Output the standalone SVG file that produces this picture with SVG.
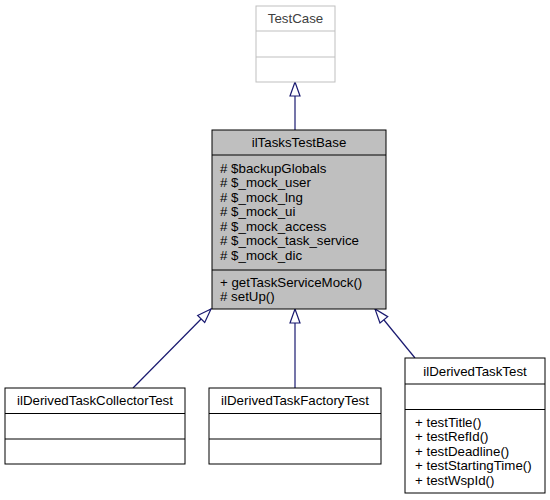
<svg xmlns="http://www.w3.org/2000/svg" width="550" height="500" viewBox="0 0 550 500">
<style>
text{font-family:"Liberation Sans",Arial,sans-serif;font-size:13.3px;fill:#000}
.c{text-anchor:middle}
.box{fill:#fff;stroke:#000;stroke-width:1}
.grey{fill:#bfbfbf;stroke:#000;stroke-width:1}
.light{fill:#fff;stroke:#bfbfbf;stroke-width:1}
.lt{fill:#404040}
.edge{fill:none;stroke:#191970;stroke-width:1.2}
</style>
<defs>
<marker id="inh" markerUnits="userSpaceOnUse" markerWidth="16" markerHeight="12" refX="14" refY="5" orient="auto" viewBox="-1 -1 16 12">
<path d="M0,0 L14,5 L0,10 Z" fill="#fff" stroke="#191970" stroke-width="1.2"/>
</marker>
</defs>
<rect width="550" height="500" fill="#fff"/>
<g id="connectors">
<line class="edge" x1="295" y1="130" x2="295" y2="82" marker-end="url(#inh)"/>
<line class="edge" x1="133" y1="388" x2="211" y2="309" marker-end="url(#inh)"/>
<line class="edge" x1="295" y1="388" x2="295" y2="309" marker-end="url(#inh)"/>
<line class="edge" x1="415" y1="358" x2="375" y2="309" marker-end="url(#inh)"/>
</g>
<g id="TestCase">
<rect class="light" x="256" y="6" width="79" height="76"/>
<line x1="256" y1="31" x2="335" y2="31" stroke="#bfbfbf"/>
<line x1="256" y1="57" x2="335" y2="57" stroke="#bfbfbf"/>
<text class="c lt" x="295.5" y="23">TestCase</text>
</g>
<g id="ilTasksTestBase">
<rect class="grey" x="212" y="130" width="174" height="179"/>
<line x1="212" y1="155" x2="386" y2="155" stroke="#000"/>
<line x1="212" y1="270" x2="386" y2="270" stroke="#000"/>
<text class="c" x="299" y="147">ilTasksTestBase</text>
<text x="220" y="172.5"># $backupGlobals</text>
<text x="220" y="187"># $_mock_user</text>
<text x="220" y="201.5"># $_mock_lng</text>
<text x="220" y="216"># $_mock_ui</text>
<text x="220" y="230.5"># $_mock_access</text>
<text x="220" y="245"># $_mock_task_service</text>
<text x="220" y="259.5"># $_mock_dic</text>
<text x="220" y="286.5">+ getTaskServiceMock()</text>
<text x="220" y="301"># setUp()</text>
</g>
<g id="ilDerivedTaskCollectorTest">
<rect class="box" x="5" y="388" width="180" height="76"/>
<line x1="5" y1="413.5" x2="185" y2="413.5" stroke="#000"/>
<line x1="5" y1="439" x2="185" y2="439" stroke="#000"/>
<text class="c" x="95" y="405">ilDerivedTaskCollectorTest</text>
</g>
<g id="ilDerivedTaskFactoryTest">
<rect class="box" x="209" y="388" width="172" height="76"/>
<line x1="209" y1="413.5" x2="381" y2="413.5" stroke="#000"/>
<line x1="209" y1="439" x2="381" y2="439" stroke="#000"/>
<text class="c" x="295" y="405">ilDerivedTaskFactoryTest</text>
</g>
<g id="ilDerivedTaskTest">
<rect class="box" x="405" y="358" width="140" height="135"/>
<line x1="405" y1="384" x2="545" y2="384" stroke="#000"/>
<line x1="405" y1="409.5" x2="545" y2="409.5" stroke="#000"/>
<text class="c" x="475" y="375.5">ilDerivedTaskTest</text>
<text x="415" y="426.5">+ testTitle()</text>
<text x="415" y="441">+ testRefId()</text>
<text x="415" y="455.5">+ testDeadline()</text>
<text x="415" y="470">+ testStartingTime()</text>
<text x="415" y="484.5">+ testWspId()</text>
</g>
</svg>
